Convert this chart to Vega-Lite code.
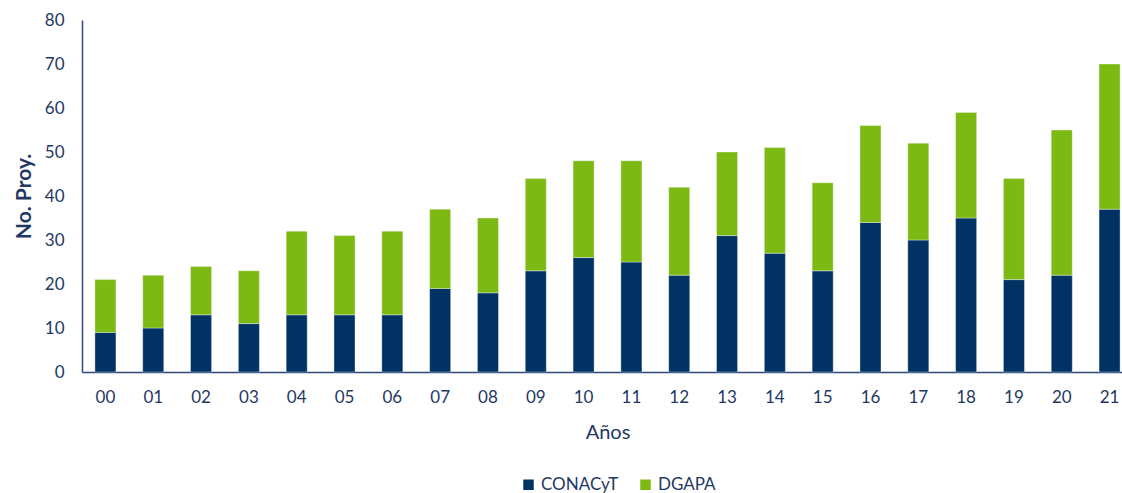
{
  "$schema": "https://vega.github.io/schema/vega-lite/v6.json",
  "width": 1040,
  "height": 352,
  "autosize": "none",
  "padding": {"left": 82, "top": 20, "right": 0, "bottom": 121},
  "background": "white",
  "config": {"view": {"stroke": null}, "font": "Lato"},
  "data": {
    "values": [
      {"year": "00", "source": "CONACyT", "value": 9}, {"year": "00", "source": "DGAPA", "value": 12},
      {"year": "01", "source": "CONACyT", "value": 10}, {"year": "01", "source": "DGAPA", "value": 12},
      {"year": "02", "source": "CONACyT", "value": 13}, {"year": "02", "source": "DGAPA", "value": 11},
      {"year": "03", "source": "CONACyT", "value": 11}, {"year": "03", "source": "DGAPA", "value": 12},
      {"year": "04", "source": "CONACyT", "value": 13}, {"year": "04", "source": "DGAPA", "value": 19},
      {"year": "05", "source": "CONACyT", "value": 13}, {"year": "05", "source": "DGAPA", "value": 18},
      {"year": "06", "source": "CONACyT", "value": 13}, {"year": "06", "source": "DGAPA", "value": 19},
      {"year": "07", "source": "CONACyT", "value": 19}, {"year": "07", "source": "DGAPA", "value": 18},
      {"year": "08", "source": "CONACyT", "value": 18}, {"year": "08", "source": "DGAPA", "value": 17},
      {"year": "09", "source": "CONACyT", "value": 23}, {"year": "09", "source": "DGAPA", "value": 21},
      {"year": "10", "source": "CONACyT", "value": 26}, {"year": "10", "source": "DGAPA", "value": 22},
      {"year": "11", "source": "CONACyT", "value": 25}, {"year": "11", "source": "DGAPA", "value": 23},
      {"year": "12", "source": "CONACyT", "value": 22}, {"year": "12", "source": "DGAPA", "value": 20},
      {"year": "13", "source": "CONACyT", "value": 31}, {"year": "13", "source": "DGAPA", "value": 19},
      {"year": "14", "source": "CONACyT", "value": 27}, {"year": "14", "source": "DGAPA", "value": 24},
      {"year": "15", "source": "CONACyT", "value": 23}, {"year": "15", "source": "DGAPA", "value": 20},
      {"year": "16", "source": "CONACyT", "value": 34}, {"year": "16", "source": "DGAPA", "value": 22},
      {"year": "17", "source": "CONACyT", "value": 30}, {"year": "17", "source": "DGAPA", "value": 22},
      {"year": "18", "source": "CONACyT", "value": 35}, {"year": "18", "source": "DGAPA", "value": 24},
      {"year": "19", "source": "CONACyT", "value": 21}, {"year": "19", "source": "DGAPA", "value": 23},
      {"year": "20", "source": "CONACyT", "value": 22}, {"year": "20", "source": "DGAPA", "value": 33},
      {"year": "21", "source": "CONACyT", "value": 37}, {"year": "21", "source": "DGAPA", "value": 33}
    ]
  },
  "mark": {"type": "bar", "stroke": "#ffffff", "strokeWidth": 0.6, "strokeOpacity": 0.6},
  "encoding": {
    "x": {
      "field": "year",
      "type": "ordinal",
      "scale": {"range": [0, 1051], "paddingInner": 0.56, "paddingOuter": 0.27},
      "axis": {
        "title": "Años",
        "labelAngle": 0,
        "labelFont": "Lato",
        "labelFontSize": 17,
        "labelColor": "#1f3864",
        "labelPadding": 17,
        "ticks": false,
        "domainColor": "#2e4a7d",
        "domainWidth": 1.5,
        "titleFont": "Lato",
        "titleFontSize": 20,
        "titleFontWeight": "normal",
        "titleColor": "#1f3864",
        "titlePadding": 17
      }
    },
    "y": {
      "field": "value",
      "type": "quantitative",
      "stack": "zero",
      "scale": {"domain": [0, 80]},
      "axis": {
        "title": "No. Proy.",
        "values": [0, 10, 20, 30, 40, 50, 60, 70, 80],
        "grid": false,
        "ticks": false,
        "labelFont": "Lato",
        "labelFontSize": 17,
        "labelColor": "#1f3864",
        "labelPadding": 18,
        "domainColor": "#2e4a7d",
        "domainWidth": 1.5,
        "titleFont": "Lato",
        "titleFontSize": 21,
        "titleFontWeight": "bold",
        "titleColor": "#1f3864",
        "titlePadding": 10
      }
    },
    "color": {
      "field": "source",
      "type": "nominal",
      "scale": {"domain": ["CONACyT", "DGAPA"], "range": ["#003263", "#7cb913"]},
      "legend": {
        "title": null,
        "orient": "none",
        "legendX": 438,
        "legendY": 456,
        "direction": "horizontal",
        "symbolType": "square",
        "symbolSize": 110,
        "symbolStrokeWidth": 0,
        "labelFont": "Lato",
        "labelFontSize": 17,
        "labelColor": "#1f3864",
        "columnPadding": 18,
        "labelOffset": 4
      }
    },
    "order": {"field": "source", "sort": "ascending"}
  }
}
